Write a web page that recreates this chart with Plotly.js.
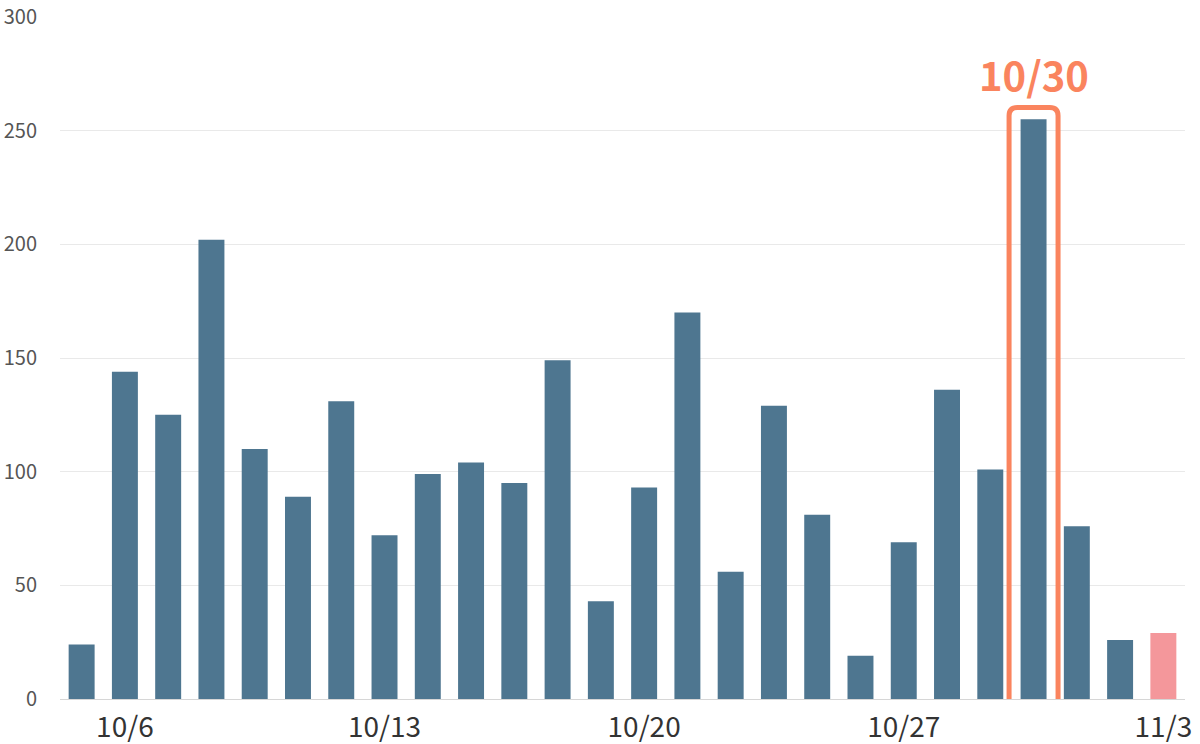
<!DOCTYPE html>
<html>
<head>
<meta charset="utf-8">
<script src="https://cdn.plot.ly/plotly-3.0.1.min.js"></script>
<style>html,body{margin:0;padding:0;background:#fff;}#chart{width:1200px;height:744px;}</style>
</head>
<body>
<div id="chart"></div>
<script>
const categories = ['10/4','10/6','10/7','10/8','10/9','10/10','10/11','10/13','10/14','10/15','10/16','10/17','10/18','10/20','10/21','10/22','10/23','10/24','10/25','10/27','10/28','10/29','10/30','10/31','11/1','11/3'];
const values = [24,144,125,202,110,89,131,72,99,104,95,149,43,93,170,56,129,81,19,69,136,101,255,76,26,29];
const tickLabels = ['10/6','10/13','10/20','10/27','11/3'];
const highlightLabel = '10/30';
const partialLabel = '11/3';

const baseColor = '#4E7690';
const partialColor = '#F4979B';
const accent = '#FA845E';

const colors = categories.map(c => c === partialLabel ? partialColor : baseColor);

const hi = categories.indexOf(highlightLabel);
const hv = values[hi];
// rounded rectangle around highlighted bar (data coordinates)
const x0 = hi - 0.566, x1 = hi + 0.566, y0 = -4.2, y1 = hv + 5.2;
const rx = 0.19, ry = 3.6;
const path = `M ${x0+rx},${y1} L ${x1-rx},${y1} Q ${x1},${y1} ${x1},${y1-ry} L ${x1},${y0+ry} Q ${x1},${y0} ${x1-rx},${y0} L ${x0+rx},${y0} Q ${x0},${y0} ${x0},${y0+ry} L ${x0},${y1-ry} Q ${x0},${y1} ${x0+rx},${y1} Z`;

const trace = {
  type: 'bar',
  x: categories,
  y: values,
  marker: {color: colors, line: {width: 0}},
  hoverinfo: 'x+y'
};

const layout = {
  width: 1200, height: 744,
  margin: {l: 60, r: 15, t: 17, b: 45},
  paper_bgcolor: '#fff', plot_bgcolor: '#fff',
  bargap: 0.4,
  showlegend: false,
  font: {family: '"Noto Sans CJK JP", "Noto Sans", sans-serif', color: '#444'},
  xaxis: {
    type: 'category',
    tickmode: 'array',
    tickvals: tickLabels,
    ticktext: tickLabels,
    tickfont: {size: 28, color: '#333', family: '"Noto Sans CJK JP", "Noto Sans", sans-serif'},
    showgrid: false,
    showline: true, linecolor: '#d6d6d6', linewidth: 1,
    ticks: '', fixedrange: true,
    ticklabelstandoff: 3,
    range: [-0.5, categories.length - 0.5]
  },
  yaxis: {
    range: [0, 300],
    tickvals: [0, 50, 100, 150, 200, 250, 300],
    tickfont: {size: 20, color: '#555', family: '"Noto Sans CJK JP", "Noto Sans", sans-serif'},
    showgrid: true, gridcolor: '#e9e9e9', gridwidth: 1,
    zeroline: false,
    ticklabelstandoff: 22,
    fixedrange: true
  },
  shapes: [{
    type: 'path', xref: 'x', yref: 'y', path: path,
    line: {color: accent, width: 5}, fillcolor: 'rgba(0,0,0,0)'
  }],
  annotations: [{
    xref: 'x', yref: 'y', x: hi, y: hv + 5.2,
    yanchor: 'bottom', yshift: 2,
    text: '<b>' + highlightLabel + '</b>',
    showarrow: false,
    font: {size: 40, color: accent, family: '"Noto Sans CJK JP", "Noto Sans", sans-serif'}
  }]
};

Plotly.newPlot('chart', [trace], layout, {displayModeBar: false, staticPlot: true});
</script>
</body>
</html>
